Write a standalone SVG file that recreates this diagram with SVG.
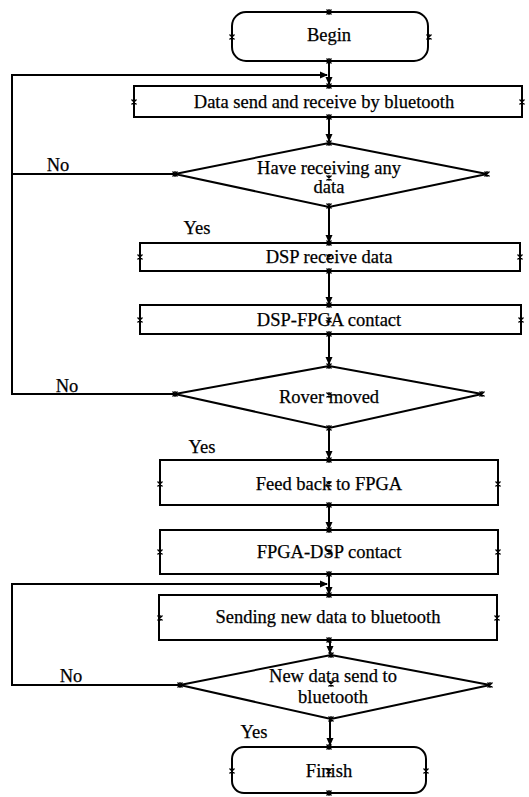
<svg xmlns="http://www.w3.org/2000/svg" width="529" height="797" viewBox="0 0 529 797">
<style>
.s{fill:#fff;stroke:#000;stroke-width:2}
.t{font-family:'Liberation Serif','Times New Roman',serif;font-size:18.5px;fill:#000;text-anchor:middle;stroke:#000;stroke-width:0.25}
.c{fill:none;stroke:#000;stroke-width:2}
.m{stroke:#000;stroke-width:1.3;fill:none}
</style>
<defs>
<marker id="ar" markerWidth="8" markerHeight="8" refX="7" refY="4" orient="auto" markerUnits="userSpaceOnUse">
<path d="M0,0.5 L8,4 L0,7.5 Z" fill="#000"/>
</marker>
<symbol id="x" overflow="visible"><path class="m" d="M-2.5,-2.5 L2.5,2.5 M-2.5,2.5 L2.5,-2.5 M0,-3 L0,3"/></symbol>
</defs>
<g id="connectors">
<path class="c" d="M329,61 V84" marker-end="url(#ar)"/>
<path class="c" d="M329,117 V141" marker-end="url(#ar)"/>
<path class="c" d="M329,207 V242" marker-end="url(#ar)"/>
<path class="c" d="M329,271 V304" marker-end="url(#ar)"/>
<path class="c" d="M329,334 V364" marker-end="url(#ar)"/>
<path class="c" d="M329,428 V458" marker-end="url(#ar)"/>
<path class="c" d="M329,505 V529" marker-end="url(#ar)"/>
<path class="c" d="M329,574 V594" marker-end="url(#ar)"/>
<path class="c" d="M330,640 V653" marker-end="url(#ar)"/>
<path class="c" d="M330,719 V745" marker-end="url(#ar)"/>
<path class="c" d="M175,174 H12 M175,394 H12 V75 H327" marker-end="url(#ar)"/>
<path class="c" d="M180,685 H12 V584 H327" marker-end="url(#ar)"/>
<text class="t" x="58" y="171">No</text>
<text class="t" x="197" y="234">Yes</text>
<text class="t" x="67" y="392">No</text>
<text class="t" x="202" y="453">Yes</text>
<text class="t" x="71" y="682">No</text>
<text class="t" x="254" y="738">Yes</text>
</g>
<g id="begin">
<rect class="s" x="232" y="12" width="196" height="49" rx="14"/>
<text class="t" x="329" y="41">Begin</text>
</g>
<g id="data-send-receive">
<rect class="s" x="134" y="86" width="388" height="31"/>
<text class="t" x="324" y="108">Data send and receive by bluetooth</text>
</g>
<g id="have-receiving">
<polygon class="s" points="329,143 487,174 329,207 175,174"/>
<text class="t" x="329" y="174">Have receiving any</text>
<text class="t" x="329" y="193">data</text>
</g>
<g id="dsp-receive">
<rect class="s" x="140" y="243" width="380" height="28"/>
<text class="t" x="329" y="263">DSP receive data</text>
</g>
<g id="dsp-fpga">
<rect class="s" x="140" y="305" width="381" height="29"/>
<text class="t" x="329" y="326">DSP-FPGA contact</text>
</g>
<g id="rover-moved">
<polygon class="s" points="329,366 482,394 329,428 175,394"/>
<text class="t" x="329" y="403">Rover moved</text>
</g>
<g id="feed-back">
<rect class="s" x="160" y="460" width="338" height="45"/>
<text class="t" x="329" y="490">Feed back to FPGA</text>
</g>
<g id="fpga-dsp">
<rect class="s" x="160" y="530" width="338" height="44"/>
<text class="t" x="329" y="558">FPGA-DSP contact</text>
</g>
<g id="sending-new">
<rect class="s" x="159" y="595" width="338" height="45"/>
<text class="t" x="328" y="623">Sending new data to bluetooth</text>
</g>
<g id="new-data-send">
<polygon class="s" points="331,655 490,685 331,719 180,685"/>
<text class="t" x="333" y="682">New data send to</text>
<text class="t" x="333" y="703">bluetooth</text>
</g>
<g id="finish">
<rect class="s" x="232" y="747" width="194" height="46" rx="12"/>
<text class="t" x="329" y="777">Finish</text>
</g>
<g id="marks">
<use href="#x" x="329" y="12"/><use href="#x" x="232" y="37"/><use href="#x" x="429" y="37"/><use href="#x" x="329" y="61"/>
<use href="#x" x="329" y="86"/><use href="#x" x="134" y="102"/><use href="#x" x="522" y="102"/><use href="#x" x="329" y="117"/>
<use href="#x" x="329" y="143"/><use href="#x" x="175" y="174"/><use href="#x" x="487" y="174"/><use href="#x" x="329" y="178"/><use href="#x" x="329" y="206"/>
<use href="#x" x="329" y="243"/><use href="#x" x="140" y="257"/><use href="#x" x="520" y="257"/><use href="#x" x="329" y="257"/><use href="#x" x="329" y="271"/>
<use href="#x" x="329" y="305"/><use href="#x" x="140" y="320"/><use href="#x" x="521" y="320"/><use href="#x" x="329" y="320"/><use href="#x" x="329" y="334"/>
<use href="#x" x="329" y="366"/><use href="#x" x="175" y="394"/><use href="#x" x="482" y="394"/><use href="#x" x="329" y="395"/><use href="#x" x="329" y="428"/>
<use href="#x" x="329" y="460"/><use href="#x" x="160" y="484"/><use href="#x" x="498" y="484"/><use href="#x" x="329" y="484"/><use href="#x" x="329" y="505"/>
<use href="#x" x="329" y="530"/><use href="#x" x="160" y="552"/><use href="#x" x="498" y="552"/><use href="#x" x="329" y="552"/><use href="#x" x="329" y="574"/>
<use href="#x" x="329" y="595"/><use href="#x" x="160" y="618"/><use href="#x" x="497" y="618"/><use href="#x" x="329" y="640"/>
<use href="#x" x="331" y="655"/><use href="#x" x="180" y="685"/><use href="#x" x="490" y="685"/><use href="#x" x="331" y="684"/><use href="#x" x="331" y="719"/>
<use href="#x" x="329" y="747"/><use href="#x" x="232" y="771"/><use href="#x" x="426" y="771"/><use href="#x" x="329" y="771"/><use href="#x" x="329" y="793"/>
</g>
</svg>
